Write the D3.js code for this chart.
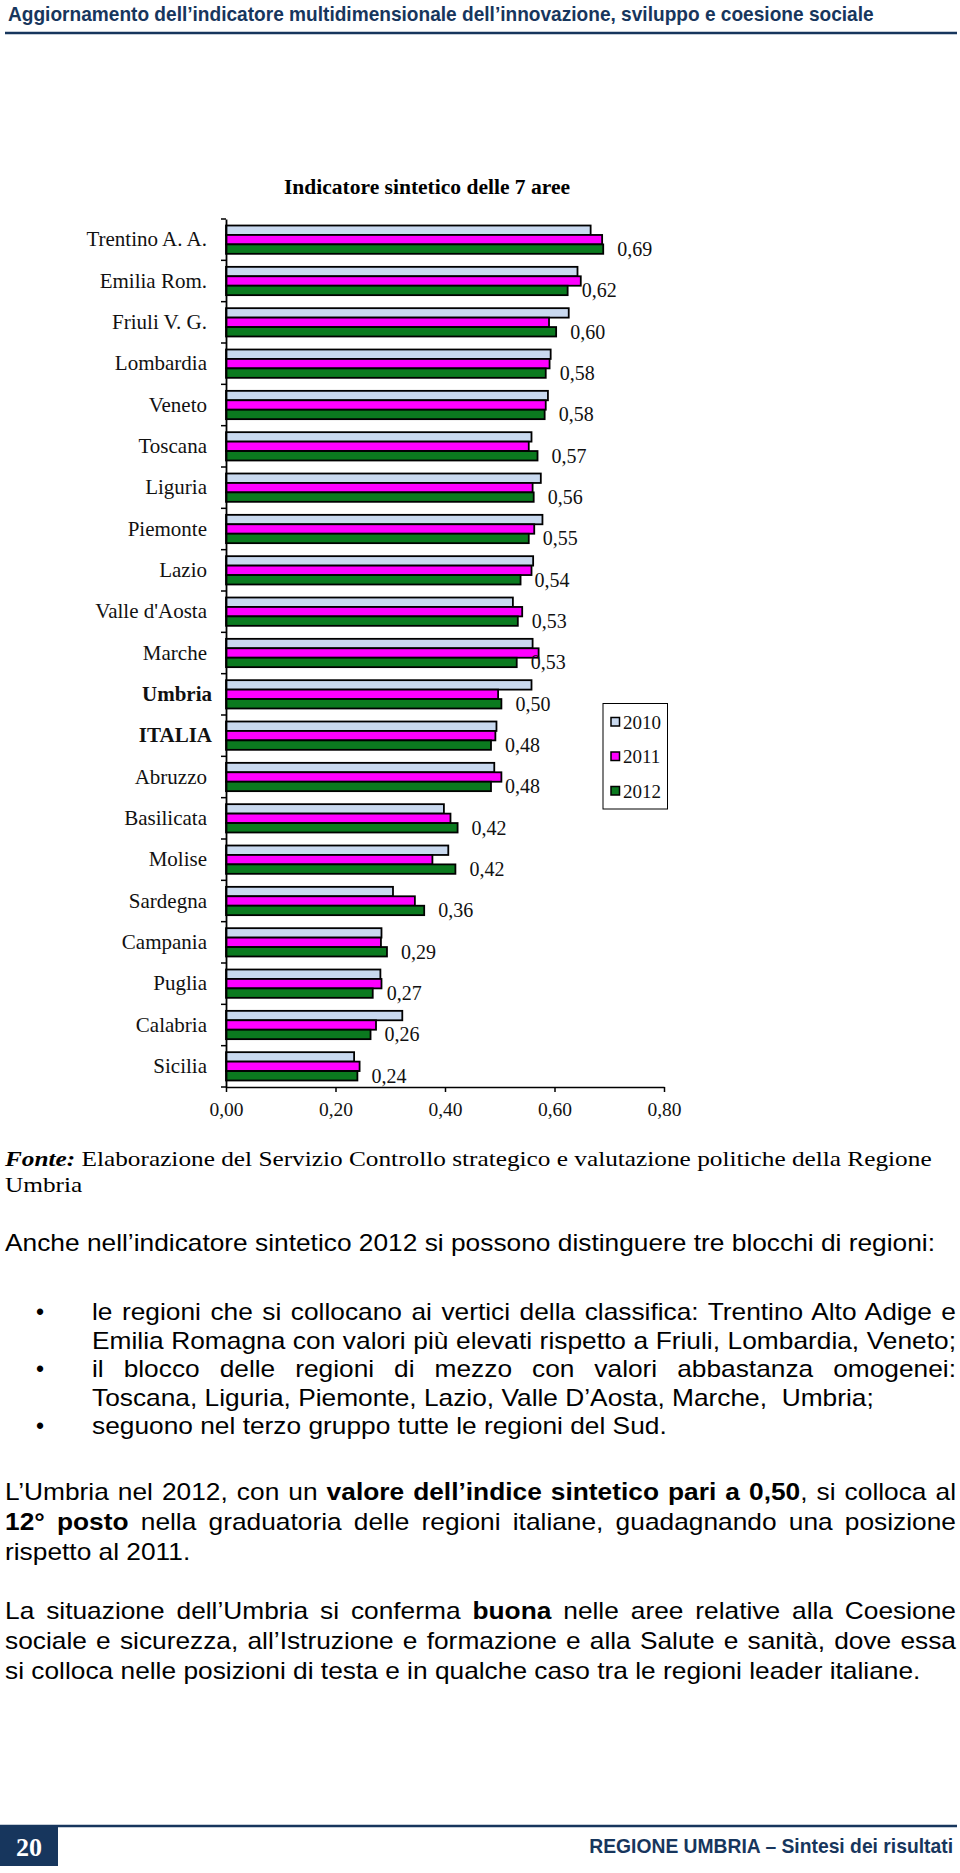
<!DOCTYPE html>
<html><head><meta charset="utf-8">
<script src="https://cdn.jsdelivr.net/npm/d3@7"></script>
<style>body{margin:0;background:#fff} svg{display:block} text{white-space:pre}</style>
</head><body>
<svg id="page" width="960" height="1873"></svg>
<script>
// ---------------- DATA ----------------
const categories = ["Trentino A. A.","Emilia Rom.","Friuli V. G.","Lombardia","Veneto","Toscana","Liguria","Piemonte","Lazio","Valle d'Aosta","Marche","Umbria","ITALIA","Abruzzo","Basilicata","Molise","Sardegna","Campania","Puglia","Calabria","Sicilia"];
const values2010 = [0.666,0.642,0.626,0.593,0.588,0.558,0.575,0.578,0.561,0.524,0.560,0.558,0.494,0.490,0.398,0.406,0.305,0.284,0.282,0.322,0.234];
const values2011 = [0.687,0.648,0.590,0.591,0.584,0.553,0.560,0.563,0.558,0.541,0.571,0.497,0.492,0.503,0.410,0.377,0.345,0.283,0.284,0.274,0.244];
const values2012 = [0.689,0.624,0.603,0.584,0.582,0.569,0.562,0.553,0.538,0.533,0.531,0.503,0.484,0.484,0.423,0.419,0.362,0.294,0.268,0.264,0.240];
const seriesNames = ["2010","2011","2012"];
const xTickValues = [0,0.2,0.4,0.6,0.8];
const boldCategories = ["Umbria","ITALIA"];
const chartTitle = "Indicatore sintetico delle 7 aree";

// ---------------- SETUP ----------------
const svg = d3.select("#page");
svg.append("rect").attr("width",960).attr("height",1873).attr("fill","#fff");
const serif = "'Liberation Serif','Times New Roman',serif";
const sans = "'Liberation Sans Narrow','Liberation Sans',Arial,sans-serif";
const navy = "#17365d";
const seriesColors = ["#c9d9ef","#ff00ff","#0b7a1f"];
const color = d3.scaleOrdinal().domain(seriesNames).range(seriesColors);
const comma = d => d3.format(".2f")(d).replace(".",",");

function measure(segs, family, size){
  const t = svg.append("text").attr("font-family",family).attr("font-size",size);
  segs.forEach(s=>t.append("tspan").attr("font-weight",s.b?"bold":null).attr("font-style",s.i?"italic":null).text(s.t));
  const w = t.node().getComputedTextLength(); t.remove(); return w;
}
// draws one condensed line: x0 = start (or end if anchor 'end'), kx = horizontal scale, justify = target width
function line(x0, yb, segs, family, size, kx, justify, opts){
  opts = opts || {};
  const g = svg.append("g").attr("transform",`translate(${x0},${yb}) scale(${kx},1)`);
  const t = g.append("text").attr("x",0).attr("y",0).attr("font-family",family).attr("font-size",size)
    .attr("fill",opts.fill||"#000").attr("text-anchor",opts.anchor||"start");
  segs.forEach(s=>t.append("tspan").attr("font-weight",s.b?"bold":null).attr("font-style",s.i?"italic":null).text(s.t));
  if (justify){
    const nat = t.node().getComputedTextLength();
    const spaces = segs.map(s=>s.t).join("").split(" ").length-1;
    t.attr("word-spacing",(justify/kx - nat)/spaces);
  }
}

// ---------------- HEADER ----------------
const headSeg = [{t:"Aggiornamento dell’indicatore multidimensionale dell’innovazione, sviluppo e coesione sociale",b:1}];
line(8,21,headSeg,sans,20,866/measure(headSeg,sans,20),null,{fill:navy});
svg.append("line").attr("x1",5).attr("x2",957).attr("y1",33).attr("y2",33).attr("stroke",navy).attr("stroke-width",2.5);

// ---------------- CHART ----------------
const x = d3.scaleLinear().domain([0,0.8]).range([226,664]);
const y = d3.scaleBand().domain(categories).range([219,1087]);
const ySub = d3.scaleBand().domain(seriesNames).range([0,y.bandwidth()]).paddingOuter(0.69);

svg.append("text").attr("x",427).attr("y",194).attr("text-anchor","middle").attr("font-family",serif)
  .attr("font-size",20).attr("font-weight","bold").attr("textLength",286).attr("lengthAdjust","spacingAndGlyphs").text(chartTitle);

const seriesValues = [values2010, values2011, values2012];
const rows = categories.map((c,i)=>({cat:c, vals:seriesNames.map((s,j)=>({s, v:seriesValues[j][i]}))}));

const gBars = svg.append("g");
rows.forEach(r=>{
  gBars.selectAll(null).data(r.vals).enter().append("rect")
    .attr("x",x(0)).attr("y",d=>y(r.cat)+ySub(d.s))
    .attr("width",d=>x(d.v)-x(0)).attr("height",ySub.bandwidth())
    .attr("fill",d=>color(d.s)).attr("stroke","#000").attr("stroke-width",1.8);
});

// value labels (2012)
svg.append("g").selectAll("text").data(rows).enter().append("text")
  .attr("x",d=>x(d.vals[2].v)+14)
  .attr("y",d=>y(d.cat)+ySub("2012")+ySub.bandwidth()/2)
  .attr("dominant-baseline","central").attr("font-family",serif).attr("font-size",20).attr("fill","#111")
  .text(d=>comma(d.vals[2].v));

// x axis
const xAxis = svg.append("g").attr("transform","translate(0,1087)")
  .call(d3.axisBottom(x).tickValues(xTickValues).tickFormat(comma).tickSizeInner(5).tickSizeOuter(0).tickPadding(10));
xAxis.select(".domain").attr("stroke","#000").attr("stroke-width",1.5);
xAxis.selectAll(".tick line").attr("stroke","#000").attr("stroke-width",1.5);
xAxis.selectAll("text").attr("font-family",serif).attr("font-size",19.5).attr("fill","#111");

// y axis
const yAxis = svg.append("g").attr("transform","translate(226,0)")
  .call(d3.axisLeft(y).tickSize(0).tickSizeOuter(0).tickPadding(19));
yAxis.select(".domain").attr("stroke","#000").attr("stroke-width",1.8);
yAxis.selectAll("text").attr("font-family",serif).attr("font-size",21).attr("fill","#111")
  .attr("font-weight",d=>boldCategories.includes(d)?"bold":"normal")
  .attr("dx",d=>boldCategories.includes(d)?5:0);
const bounds = categories.map(c=>y(c)).concat([y.range()[1]]);
yAxis.selectAll(".bt").data(bounds).enter().append("line").attr("class","bt")
  .attr("x1",-5).attr("x2",0).attr("y1",d=>d).attr("y2",d=>d).attr("stroke","#000").attr("stroke-width",1.5);

// legend
const lg = svg.append("g").attr("transform","translate(603,703.5)");
lg.append("rect").attr("width",64.5).attr("height",105.5).attr("fill","#fff").attr("stroke","#000").attr("stroke-width",1);
const li = lg.selectAll("g").data(seriesNames).enter().append("g").attr("transform",(d,i)=>`translate(0,${18.5+i*34.5})`);
li.append("rect").attr("x",8).attr("y",-4.5).attr("width",8.5).attr("height",8.5).attr("fill",d=>color(d)).attr("stroke","#000").attr("stroke-width",1.5);
li.append("text").attr("x",20).attr("y",0).attr("dominant-baseline","central").attr("font-family",serif).attr("font-size",19).attr("fill","#111").text(d=>d);

// ---------------- SOURCE ----------------
const src1 = [{t:"Fonte:",b:1,i:1},{t:" Elaborazione del Servizio Controllo strategico e valutazione politiche della Regione"}];
const kSerif = 927/measure(src1, serif, 21);
line(5,1166,src1,serif,21,kSerif);
line(5,1192,[{t:"Umbria"}],serif,21,kSerif);

// ---------------- BODY TEXT ----------------
const bs = 23;
const refSeg = [{t:"seguono nel terzo gruppo tutte le regioni del Sud."}];
const kSans = 575/measure(refSeg, sans, bs);
line(5,1251,[{t:"Anche nell’indicatore sintetico 2012 si possono distinguere tre blocchi di regioni:"}],sans,bs,kSans);
line(92,1320,[{t:"le regioni che si collocano ai vertici della classifica: Trentino Alto Adige e"}],sans,bs,kSans,864);
line(92,1348.5,[{t:"Emilia Romagna con valori più elevati rispetto a Friuli, Lombardia, Veneto;"}],sans,bs,kSans,864);
line(92,1377,[{t:"il blocco delle regioni di mezzo con valori abbastanza omogenei:"}],sans,bs,kSans,864);
line(92,1405.5,[{t:"Toscana, Liguria, Piemonte, Lazio, Valle D’Aosta, Marche,  Umbria;"}],sans,bs,kSans);
line(92,1434,refSeg,sans,bs,kSans);
[1320,1377,1434].forEach(yb=>svg.append("text").attr("x",36).attr("y",yb).attr("font-family",sans).attr("font-size",bs).text("•"));

line(5,1500,[{t:"L’Umbria nel 2012, con un "},{t:"valore dell’indice sintetico pari a 0,50",b:1},{t:", si colloca al"}],sans,bs,kSans,951);
line(5,1530,[{t:"12° posto",b:1},{t:" nella graduatoria delle regioni italiane, guadagnando una posizione"}],sans,bs,kSans,951);
line(5,1560,[{t:"rispetto al 2011."}],sans,bs,kSans);

line(5,1619,[{t:"La situazione dell’Umbria si conferma "},{t:"buona",b:1},{t:" nelle aree relative alla Coesione"}],sans,bs,kSans,951);
line(5,1649,[{t:"sociale e sicurezza, all’Istruzione e formazione e alla Salute e sanità, dove essa"}],sans,bs,kSans,951);
line(5,1679,[{t:"si colloca nelle posizioni di testa e in qualche caso tra le regioni leader italiane."}],sans,bs,kSans);

// ---------------- FOOTER ----------------
svg.append("line").attr("x1",0).attr("x2",957).attr("y1",1826).attr("y2",1826).attr("stroke",navy).attr("stroke-width",2.5);
svg.append("rect").attr("x",0).attr("y",1827).attr("width",58).attr("height",39).attr("fill",navy);
svg.append("text").attr("x",29).attr("y",1856).attr("text-anchor","middle").attr("font-family",serif)
  .attr("font-size",26).attr("font-weight","bold").attr("fill","#fff").text("20");
const footSeg = [{t:"REGIONE UMBRIA – Sintesi dei risultati",b:1}];
line(953,1853,footSeg,sans,20,364/measure(footSeg,sans,20),null,{fill:navy,anchor:"end"});
</script>
</body></html>
